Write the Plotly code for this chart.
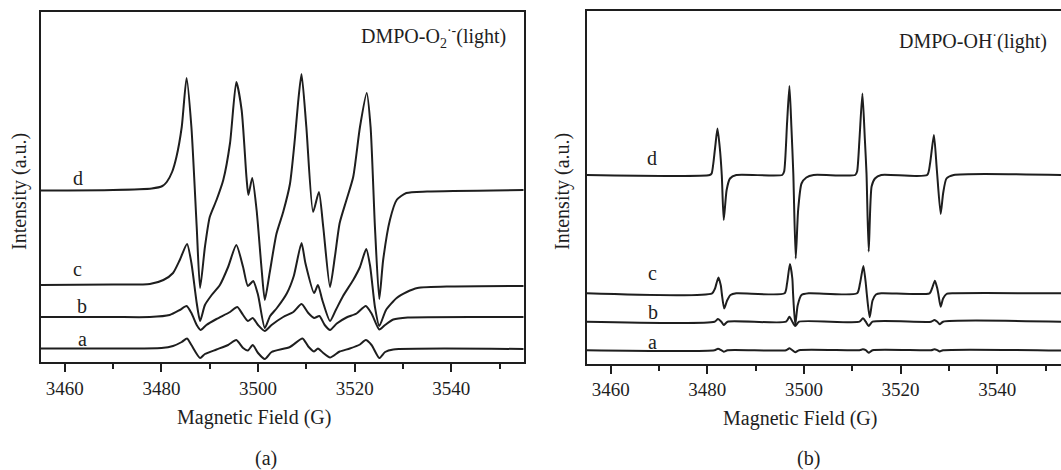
import plotly.graph_objects as go

# ---------------- Panel (a): DMPO-O2·- spectra ----------------
a_d_field = [3455, 3470, 3478, 3480.2, 3481.1, 3482.2, 3483.1, 3484.2, 3485.2, 3486.2, 3487.3, 3488.0,
             3489.0, 3490.0, 3491.4, 3492.8, 3494.2, 3495.5, 3496.6, 3497.6, 3498.0, 3498.8, 3499.7,
             3500.7, 3501.4, 3502.4, 3503.8, 3505.2, 3506.6, 3507.6, 3508.3, 3509.0, 3510.0, 3511.4,
             3512.6, 3513.5, 3514.9, 3515.9, 3516.9, 3518.3, 3519.7, 3521.1, 3522.5, 3523.3, 3524.2,
             3525.1, 3525.9, 3527.3, 3528.7, 3530.7, 3535, 3555]
a_d_int = [171.5, 172.0, 173.5, 176, 180, 190, 205, 235, 284, 235, 135, 74,
           115, 145, 162, 182, 219, 280, 252, 185, 167, 184, 152,
           95, 62, 89, 128, 150, 178, 222, 260, 288, 235, 150,
           170, 135, 75, 105, 139, 162, 185, 235, 269, 235, 135,
           63, 102, 142, 162, 169, 170.5, 172]

a_c_field = [3455, 3470, 3477.6, 3480.4, 3482.4, 3483.8, 3485.3, 3486.2, 3487.3, 3488.0, 3489.0, 3490.4,
             3492.1, 3493.8, 3495.5, 3496.9, 3497.9, 3499.0, 3500.0, 3501.4, 3502.5, 3503.9, 3506.0,
             3507.4, 3509.0, 3509.8, 3511.6, 3512.4, 3513.3, 3514.9, 3516.1, 3517.6, 3519.7, 3521.1,
             3522.4, 3523.2, 3524.2, 3525.1, 3526.5, 3528.7, 3530.8, 3533, 3540, 3555]
a_c_int = [77, 77.5, 78, 82, 89, 102, 118, 99, 59, 41, 57, 67,
           77, 95, 117, 95, 76, 81, 67, 34, 46, 54, 69,
           86, 119, 99, 69, 77, 62, 41, 52, 66, 82, 95,
           113, 96, 55, 36, 52, 64, 70, 74, 75.5, 76]

a_b_field = [3455, 3470, 3477.6, 3481.7, 3483.8, 3485.2, 3486.2, 3487.3, 3488.1, 3489.3, 3491.4, 3494.2,
             3495.7, 3496.9, 3497.9, 3498.9, 3500.0, 3501.4, 3502.8, 3505.2, 3507.3, 3509.0, 3510.4,
             3511.6, 3512.7, 3513.8, 3514.9, 3516.3, 3518.3, 3520.4, 3522.3, 3523.5, 3525.1, 3526.3,
             3528.0, 3531, 3555]
a_b_int = [45, 45, 45, 47, 52, 56, 49, 37, 32, 37, 43, 50,
           55, 47, 41, 44, 37, 31, 37, 45, 50, 58, 49,
           44, 46, 37, 32, 38.5, 44.5, 48.5, 56, 48.5, 32.5, 37,
           42.5, 44.5, 45]

a_a_field = [3455, 3470, 3480, 3482.4, 3484.2, 3485.3, 3486.2, 3488.0, 3489.0, 3491.4, 3493.8, 3495.5,
             3496.9, 3497.9, 3498.9, 3500.0, 3501.4, 3502.8, 3506.6, 3509.2, 3510.4, 3511.6, 3512.4,
             3513.5, 3514.9, 3516.9, 3519.0, 3521.1, 3522.3, 3523.5, 3525.1, 3526.3, 3528, 3555]
a_a_int = [13.5, 13.5, 14, 16, 20, 23.5, 17, 4, 8, 12.5, 17, 22,
           14, 11.5, 17, 9, 3, 10, 15, 23.5, 15.5, 10.5, 13.5,
           9, 4.5, 10.5, 13.5, 17.5, 22, 17, 4, 10, 12.5, 13]

# ---------------- Panel (b): DMPO-OH· spectra ----------------
b_d_field = [3455, 3480.5, 3480.9, 3481.6, 3482.1, 3482.6, 3483.0, 3483.4, 3484.0, 3484.7, 3486,
             3495.5, 3495.9, 3496.5, 3497.0, 3497.4, 3497.8, 3498.3, 3498.8, 3499.5, 3500.5, 3502,
             3510.6, 3511.0, 3511.5, 3512.1, 3512.6, 3512.95, 3513.4, 3514.0, 3514.7, 3516,
             3525.5, 3526.1, 3526.9, 3527.5, 3528.3, 3528.8, 3529.5, 3531, 3553.2]
b_d_int = [188.5, 188.5, 190, 215, 235, 215, 188, 143.5, 173.5, 185, 188.5,
           188.5, 192, 240, 277.5, 237, 190, 105, 153.5, 180, 186, 188.5,
           188.5, 192, 225, 270, 225, 190, 112, 177, 185, 188.5,
           188.5, 200, 228.5, 194, 149.5, 170, 185, 188.5, 188.5]

b_c_field = [3455, 3481, 3481.6, 3482.3, 3482.8, 3483.0, 3483.5, 3484.1, 3484.8, 3486,
             3496, 3496.5, 3497.1, 3497.6, 3497.75, 3498.2, 3498.7, 3499.5, 3501,
             3511, 3511.6, 3512.3, 3512.8, 3513.0, 3513.6, 3514.2, 3514.9, 3516,
             3526, 3526.5, 3527.1, 3527.6, 3527.8, 3528.3, 3528.8, 3529.5, 3531, 3553.2]
b_c_int = [70.2, 70.2, 75, 86, 78, 70, 55, 63, 68.5, 70.2,
           70.2, 80, 99.5, 85, 70, 38.5, 58, 68.5, 70.2,
           70.2, 80, 97.5, 80, 70, 46.2, 63, 69, 70.2,
           70.2, 75, 82.8, 75, 70, 56.8, 65, 69.5, 70.2, 70.2]

b_b_field = [3455, 3481.5, 3482.2, 3482.9, 3483.4, 3484.2,
             3496.3, 3497.0, 3497.6, 3498.2, 3499.0,
             3511.5, 3512.2, 3512.8, 3513.4, 3514.2,
             3526.3, 3527.0, 3527.6, 3528.1, 3528.8, 3553.2]
b_b_int = [41.8, 41.8, 44.5, 41.8, 38.5, 41.8,
           41.8, 46.8, 41.8, 37.5, 41.8,
           41.8, 45.2, 41.8, 37.5, 41.8,
           41.8, 43.5, 41.8, 39.2, 41.8, 41.8]

b_a_field = [3455, 3481.5, 3482.2, 3482.9, 3483.4, 3484.2,
             3496.3, 3497.0, 3497.6, 3498.2, 3499.0,
             3511.5, 3512.2, 3512.8, 3513.4, 3514.2,
             3526.3, 3527.0, 3527.6, 3528.1, 3528.8, 3553.2]
b_a_int = [13.3, 13.3, 14.8, 13.3, 11.8, 13.3,
           13.3, 15.2, 13.3, 11.2, 13.3,
           13.3, 14.2, 13.3, 10.8, 13.3,
           13.3, 14.2, 13.3, 12.0, 13.3, 13.0]

tick_vals = [3460, 3480, 3500, 3520, 3540]
tick_text = ["3460", "3480", "3500", "3520", "3540"]
curve_names = ["a", "b", "c", "d"]

INK = "#1e1e1e"
FONT = "Liberation Serif, Times New Roman, DejaVu Serif, serif"
W, H = 1061, 470

fig = go.Figure()
panel_a = [(a_a_field, a_a_int), (a_b_field, a_b_int), (a_c_field, a_c_int), (a_d_field, a_d_int)]
panel_b = [(b_a_field, b_a_int), (b_b_field, b_b_int), (b_c_field, b_c_int), (b_d_field, b_d_int)]
for name, (fx, fy) in zip(curve_names, panel_a):
    fig.add_trace(go.Scatter(x=fx, y=fy, mode="lines", name=name, xaxis="x", yaxis="y",
                             line=dict(color=INK, width=2, shape="spline", smoothing=0.6)))
for name, (fx, fy) in zip(curve_names, panel_b):
    fig.add_trace(go.Scatter(x=fx, y=fy, mode="lines", name=name, xaxis="x2", yaxis="y2",
                             line=dict(color=INK, width=2, shape="spline", smoothing=0.6)))

def xax(domain, rng, mirror):
    return dict(domain=domain, range=rng, tickmode="array", tickvals=tick_vals, ticktext=tick_text,
                ticks="outside", ticklen=8, tickwidth=2, tickcolor=INK,
                minor=dict(dtick=10, tick0=3450, ticks="outside", ticklen=5, tickwidth=2,
                           tickcolor=INK, showgrid=False),
                showline=True, linewidth=2, linecolor=INK, mirror=mirror,
                showgrid=False, zeroline=False,
                tickfont=dict(family=FONT, size=19, color=INK))

def yax(domain, rng, mirror, anchor):
    return dict(domain=domain, range=rng, showticklabels=False, ticks="",
                showline=True, linewidth=2, linecolor=INK, mirror=mirror,
                showgrid=False, zeroline=False, anchor=anchor)

xa = xax([40.7 / W, 523.7 / W], [3455, 3555], True)
xa["anchor"] = "y"
xb = xax([586.5 / W, 1.0], [3455, 3553.2], True)
xb["anchor"] = "y2"

fig.update_layout(
    width=W, height=H, margin=dict(l=0, r=0, t=0, b=0),
    paper_bgcolor="white", plot_bgcolor="white", showlegend=False,
    font=dict(family=FONT, color=INK),
    xaxis=xa, xaxis2=xb,
    yaxis=yax([(H - 362) / H, (H - 11.7) / H], [0, 350.3], True, "x"),
    yaxis2=yax([(H - 363.5) / H, (H - 10.7) / H], [0, 352.8], False, "x2"),
)

ann = []
def txt(text, x, y, size=20, xanchor="center", xref="paper", yref="paper", angle=0):
    ann.append(dict(text=text, x=x, y=y, xref=xref, yref=yref, showarrow=False,
                    xanchor=xanchor, yanchor="middle", textangle=angle,
                    font=dict(family=FONT, size=size, color=INK)))

# axis titles
txt("Magnetic Field (G)", 254 / W, 1 - 417 / H)
txt("Magnetic Field (G)", 800 / W, 1 - 418 / H)
txt("Intensity (a.u.)", 20 / W, 1 - 192 / H, angle=-90)
txt("Intensity (a.u.)", 563 / W, 1 - 192 / H, angle=-90)
# panel captions
txt("(a)", 266 / W, 1 - 458 / H)
txt("(b)", 808 / W, 1 - 458 / H)
# radical labels
txt("DMPO-O<sub>2</sub><sup>·-</sup>(light)", 508 / W, 1 - 37 / H, xanchor="right")
txt("DMPO-OH<sup>·</sup>(light)", 1049 / W, 1 - 40 / H, xanchor="right")
# curve labels
for lab, gx, gy in zip(curve_names, [3463.7, 3463.5, 3462.7, 3462.7], [23, 56, 93, 184]):
    txt(lab, gx, gy, xref="x", yref="y")
for lab, gx, gy in zip(curve_names, [3468.7, 3468.8, 3468.7, 3468.5], [21.8, 51.8, 90.2, 205.2]):
    txt(lab, gx, gy, xref="x2", yref="y2")

fig.update_layout(annotations=ann)
fig.write_html("out.html")
